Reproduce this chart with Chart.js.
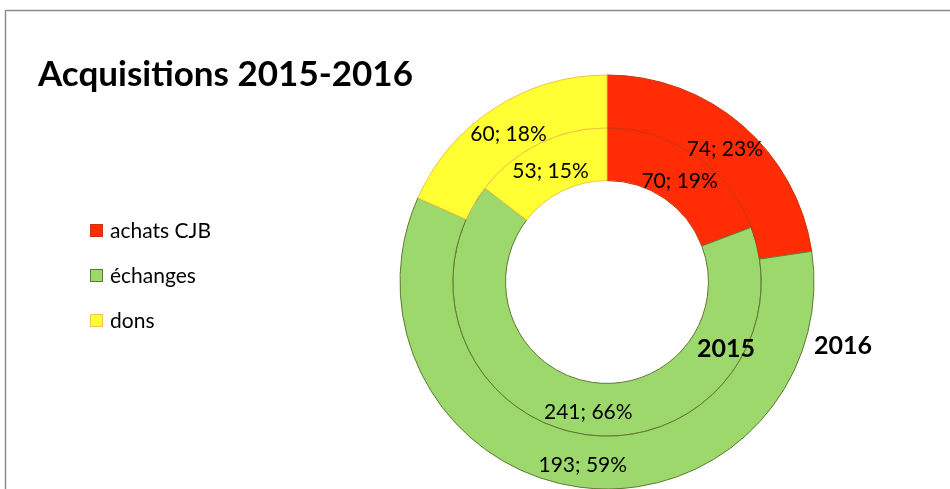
<!DOCTYPE html>
<html>
<head>
<meta charset="utf-8">
<script src="https://cdn.jsdelivr.net/npm/chart.js@4.4.1/dist/chart.umd.min.js"></script>
<style>
  html, body { margin: 0; padding: 0; background: #ffffff; }
  #wrap { position: relative; width: 950px; height: 489px; }
</style>
</head>
<body>
<div id="wrap"><canvas id="c" width="950" height="489"></canvas></div>
<script>
// Acquisitions by type, two rings: outer = 2016, inner = 2015
const categories = ['achats CJB', 'échanges', 'dons'];
const years = ['2016', '2015'];
const values2016 = [74, 193, 60];
const values2015 = [70, 241, 53];
const titleText = 'Acquisitions 2015-2016';

const fillColors = ['#FF2C05', '#9DD86C', '#FFFF33'];
const edgeColors = ['#C8340E', '#5F7A36', '#F2C542'];
const FONT = 'Lato, "Liberation Sans", sans-serif';

function pct(v, arr) {
  const tot = arr.reduce((a, b) => a + b, 0);
  return Math.round(v / tot * 100);
}

const overlay = {
  id: 'overlay',
  beforeDraw(chart) {
    const ctx = chart.ctx;
    ctx.save();
    ctx.fillStyle = '#ffffff';
    ctx.fillRect(0, 0, chart.width, chart.height);
    // outer frame
    ctx.strokeStyle = '#8c8c8c';
    ctx.lineWidth = 1.5;
    ctx.beginPath();
    ctx.moveTo(5.5, chart.height + 2);
    ctx.lineTo(5.5, 10.5);
    ctx.lineTo(chart.width + 2, 10.5);
    ctx.stroke();
    ctx.restore();
  },
  afterDraw(chart) {
    const ctx = chart.ctx;
    ctx.save();
    // title
    ctx.fillStyle = '#000000';
    ctx.textBaseline = 'alphabetic';
    ctx.textAlign = 'left';
    ctx.font = 'bold 35px ' + FONT;
    ctx.fillText(titleText, 38, 86);

    // legend
    ctx.font = '21px ' + FONT;
    categories.forEach((name, i) => {
      const y = 231 + i * 45;
      ctx.fillStyle = fillColors[i];
      ctx.fillRect(90, y - 7, 13, 13);
      ctx.strokeStyle = edgeColors[i];
      ctx.lineWidth = 1;
      ctx.strokeRect(90.5, y - 6.5, 12, 12);
      ctx.fillStyle = '#000000';
      ctx.textBaseline = 'middle';
      ctx.fillText(name, 110, y);
    });

    // ring labels
    ctx.font = 'bold 25px ' + FONT;
    ctx.textBaseline = 'middle';
    ctx.textAlign = 'center';
    ctx.fillText(years[1], 726, 349);
    ctx.fillText(years[0], 843, 346);

    // data labels at each arc's centre
    ctx.font = '21px ' + FONT;
    chart.data.datasets.forEach((ds, di) => {
      const meta = chart.getDatasetMeta(di);
      meta.data.forEach((arc, i) => {
        const p = arc.tooltipPosition();
        const txt = ds.data[i] + '; ' + pct(ds.data[i], ds.data) + '%';
        ctx.fillText(txt, p.x, p.y + 4);
      });
    });
    ctx.restore();
  }
};

new Chart(document.getElementById('c'), {
  type: 'doughnut',
  data: {
    labels: categories,
    datasets: [
      { label: years[0], data: values2016, backgroundColor: fillColors, borderColor: edgeColors, borderWidth: 1 },
      { label: years[1], data: values2015, backgroundColor: fillColors, borderColor: edgeColors, borderWidth: 1 }
    ]
  },
  options: {
    responsive: false,
    animation: false,
    radius: 207,
    cutout: '49%',
    layout: { padding: { left: 264, right: 0, top: 75, bottom: 0 } },
    plugins: {
      legend: { display: false },
      tooltip: { enabled: false },
      title: { display: false }
    }
  },
  plugins: [overlay]
});
</script>
</body>
</html>
